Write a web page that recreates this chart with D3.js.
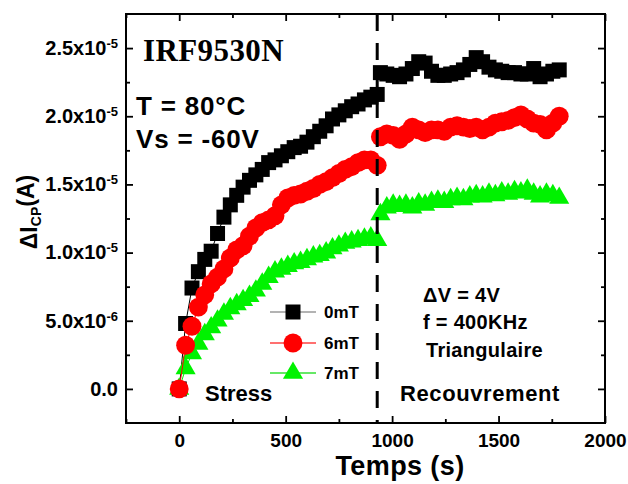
<!DOCTYPE html>
<html>
<head>
<meta charset="utf-8">
<script src="https://cdn.jsdelivr.net/npm/d3@7/dist/d3.min.js"></script>
<style>
  html, body { margin: 0; padding: 0; background: #fff; }
  svg { display: block; font-family: "Liberation Sans", Arial, sans-serif; }
</style>
</head>
<body>
<svg id="chart" width="628" height="484"></svg>
<script>
// Charge-pumping current shift ΔI_CP (in units of 1e-5 A) during stress and recovery
const stressTime = [0, 30, 60, 90, 120, 150, 180, 210, 240, 270, 300, 330, 360, 390, 420, 450,
  480, 510, 540, 570, 600, 630, 660, 690, 720, 750, 780, 810, 840, 870, 900, 930];
const recoveryTime = [945, 975, 1005, 1035, 1065, 1095, 1125, 1155, 1185, 1215, 1245, 1275, 1305,
  1335, 1365, 1395, 1425, 1455, 1485, 1515, 1545, 1575, 1605, 1635, 1665, 1695, 1725, 1755, 1785];

const stress0mT = [0.00, 0.48, 0.74, 0.86, 0.95, 1.01, 1.14, 1.26, 1.35, 1.42, 1.48, 1.53, 1.57,
  1.61, 1.66, 1.68, 1.71, 1.74, 1.77, 1.78, 1.81, 1.85, 1.89, 1.93, 1.98, 2.01, 2.04, 2.07, 2.09,
  2.12, 2.14, 2.16];
const recovery0mT = [2.32, 2.31, 2.30, 2.29, 2.31, 2.35, 2.40, 2.39, 2.33, 2.30, 2.30, 2.31, 2.32,
  2.34, 2.38, 2.43, 2.40, 2.36, 2.34, 2.33, 2.32, 2.32, 2.31, 2.31, 2.35, 2.29, 2.31, 2.33, 2.34];

const stress6mT = [0.00, 0.32, 0.46, 0.60, 0.69, 0.77, 0.82, 0.88, 0.96, 1.02, 1.05, 1.12, 1.18,
  1.22, 1.24, 1.27, 1.35, 1.40, 1.42, 1.43, 1.45, 1.47, 1.50, 1.52, 1.55, 1.58, 1.61, 1.63, 1.66,
  1.68, 1.68, 1.64];
const recovery6mT = [1.85, 1.87, 1.86, 1.83, 1.87, 1.92, 1.90, 1.88, 1.90, 1.90, 1.89, 1.92, 1.93,
  1.92, 1.91, 1.92, 1.90, 1.92, 1.95, 1.96, 1.97, 1.99, 2.01, 1.98, 1.95, 1.94, 1.90, 1.95, 2.00];

const stress7mT = [0.00, 0.15, 0.26, 0.33, 0.40, 0.45, 0.50, 0.55, 0.59, 0.62, 0.65, 0.68, 0.72,
  0.77, 0.82, 0.86, 0.88, 0.90, 0.92, 0.93, 0.95, 0.97, 0.98, 1.00, 1.03, 1.05, 1.07, 1.08, 1.09,
  1.10, 1.11, 1.09];
const recovery7mT = [1.28, 1.33, 1.35, 1.34, 1.35, 1.33, 1.36, 1.35, 1.37, 1.38, 1.37, 1.39, 1.40,
  1.39, 1.41, 1.42, 1.41, 1.43, 1.42, 1.44, 1.43, 1.45, 1.44, 1.46, 1.43, 1.41, 1.43, 1.42, 1.40];

const seriesNames = ["0mT", "6mT", "7mT"];
const phaseBoundary = 930;

const xTicks = [0, 500, 1000, 1500, 2000];
const xMinorTicks = [-250, 250, 750, 1250, 1750];
const yTicks = [0, 0.5, 1.0, 1.5, 2.0, 2.5];
const yMinorTicks = [0.25, 0.75, 1.25, 1.75, 2.25];
const yTickMantissa = ["0.0", "5.0x10", "1.0x10", "1.5x10", "2.0x10", "2.5x10"];
const yTickExponent = ["", "-6", "-5", "-5", "-5", "-5"];

const svg = d3.select("#chart");
const box = { left: 126, right: 605, top: 14, bottom: 423 };

const x = d3.scaleLinear().domain([-250, 2000]).range([box.left, box.right]);
const y = d3.scaleLinear().domain([-0.25, 2.75]).range([box.bottom, box.top]);

// series styling and draw order (squares, then triangles, circles on top)
const series = [
  { name: seriesNames[0], color: "#000000", line: "#9a9a9a", symbol: d3.symbolSquare, size: 225,
    stress: stress0mT, recovery: recovery0mT },
  { name: seriesNames[2], color: "#00f200", line: "#33e033", symbol: d3.symbolTriangle, size: 175,
    stress: stress7mT, recovery: recovery7mT },
  { name: seriesNames[1], color: "#ff0000", line: "#ff4040", symbol: d3.symbolCircle, size: 280,
    stress: stress6mT, recovery: recovery6mT }
];

const line = d3.line().x(d => x(d[0])).y(d => y(d[1]));
const plot = svg.append("g");

series.forEach(s => {
  const phases = [
    stressTime.map((t, i) => [t, s.stress[i]]),
    recoveryTime.map((t, i) => [t, s.recovery[i]])
  ];
  phases.forEach(pts => {
    plot.append("path").attr("d", line(pts)).attr("fill", "none")
      .attr("stroke", s.color).attr("stroke-width", 1);
    plot.selectAll(null).data(pts).enter().append("path")
      .attr("transform", d => `translate(${x(d[0])},${y(d[1])})`)
      .attr("d", d3.symbol().type(s.symbol).size(s.size))
      .attr("fill", s.color);
  });
});

// stress / recovery boundary
svg.append("line")
  .attr("x1", x(phaseBoundary)).attr("x2", x(phaseBoundary))
  .attr("y1", box.top).attr("y2", box.bottom)
  .attr("stroke", "#000").attr("stroke-width", 3)
  .attr("stroke-dasharray", "17,12");

// frame with inward ticks on all four sides
function styleAxis(g) {
  g.select(".domain").remove();
  g.selectAll(".tick line").attr("stroke", "#000").attr("stroke-width", 1.8);
}
svg.append("g").attr("transform", `translate(0,${box.bottom})`)
  .call(d3.axisBottom(x).tickValues(xTicks).tickSize(-7).tickPadding(11).tickFormat(d3.format("d")))
  .call(styleAxis)
  .call(g => g.selectAll("text").attr("font-size", 19).attr("font-weight", "bold").attr("fill", "#000"));
svg.append("g").attr("transform", `translate(0,${box.bottom})`)
  .call(d3.axisBottom(x).tickValues(xMinorTicks).tickSize(-4).tickFormat(""))
  .call(styleAxis);
svg.append("g").attr("transform", `translate(0,${box.top})`)
  .call(d3.axisTop(x).tickValues(xTicks).tickSize(-7).tickFormat(""))
  .call(styleAxis);
svg.append("g").attr("transform", `translate(0,${box.top})`)
  .call(d3.axisTop(x).tickValues(xMinorTicks).tickSize(-4).tickFormat(""))
  .call(styleAxis);

svg.append("g").attr("transform", `translate(${box.left},0)`)
  .call(d3.axisLeft(y).tickValues(yTicks).tickSize(-7).tickPadding(8).tickFormat(""))
  .call(styleAxis)
  .call(g => g.selectAll(".tick text").each(function (d, i) {
    const t = d3.select(this).attr("font-size", 20).attr("font-weight", "bold")
      .attr("fill", "#000").attr("dy", "0.32em");
    t.append("tspan").text(yTickMantissa[i]);
    if (yTickExponent[i]) {
      t.append("tspan").attr("font-size", 13).attr("dy", "-0.55em").text(yTickExponent[i]);
    }
  }));
svg.append("g").attr("transform", `translate(${box.left},0)`)
  .call(d3.axisLeft(y).tickValues(yMinorTicks).tickSize(-4).tickFormat(""))
  .call(styleAxis);
svg.append("g").attr("transform", `translate(${box.right},0)`)
  .call(d3.axisRight(y).tickValues(yTicks).tickSize(-7).tickFormat(""))
  .call(styleAxis);
svg.append("g").attr("transform", `translate(${box.right},0)`)
  .call(d3.axisRight(y).tickValues(yMinorTicks).tickSize(-4).tickFormat(""))
  .call(styleAxis);

svg.append("rect")
  .attr("x", box.left).attr("y", box.top)
  .attr("width", box.right - box.left).attr("height", box.bottom - box.top)
  .attr("fill", "none").attr("stroke", "#000").attr("stroke-width", 2);

// axis titles
svg.append("text").attr("x", 400).attr("y", 475).attr("text-anchor", "middle")
  .attr("font-size", 27).attr("font-weight", "bold").attr("letter-spacing", 0.4).text("Temps (s)");

const yTitle = svg.append("text")
  .attr("transform", "translate(37,212) rotate(-90)")
  .attr("text-anchor", "middle").attr("font-size", 23).attr("font-weight", "bold");
yTitle.append("tspan").text("ΔI");
yTitle.append("tspan").attr("font-size", 14).attr("dy", "0.3em").text("CP");
yTitle.append("tspan").attr("dy", "-0.3em").text("(A)");

// annotations
svg.append("text").attr("x", 143).attr("y", 61)
  .attr("font-family", "'Liberation Serif', 'Times New Roman', serif")
  .attr("font-size", 31).attr("font-weight", "bold").attr("letter-spacing", 0.4).text("IRF9530N");

const cond = [["T = 80°C", 115], ["Vs = -60V", 148]];
cond.forEach(c => svg.append("text").attr("x", 136).attr("y", c[1])
  .attr("font-size", 26).attr("font-weight", "bold").attr("letter-spacing", 0.8).text(c[0]));

const params = [["ΔV = 4V", 423, 302], ["f = 400KHz", 423, 329], ["Triangulaire", 426, 357]];
params.forEach(p => svg.append("text").attr("x", p[1]).attr("y", p[2])
  .attr("font-size", 20).attr("font-weight", "bold").attr("letter-spacing", 0.3).text(p[0]));

svg.append("text").attr("x", 205).attr("y", 401)
  .attr("font-size", 22).attr("font-weight", "bold").text("Stress");
svg.append("text").attr("x", 400).attr("y", 401)
  .attr("font-size", 22).attr("font-weight", "bold").attr("letter-spacing", 0.6).text("Recouvrement");

// legend
const legendRows = [
  { s: series[0], y: 312 },
  { s: series[2], y: 343 },
  { s: series[1], y: 373 }
];
legendRows.forEach(r => {
  const g = svg.append("g");
  g.append("line").attr("x1", 270).attr("x2", 316).attr("y1", r.y).attr("y2", r.y)
    .attr("stroke", r.s.line).attr("stroke-width", 1.5);
  g.append("path").attr("transform", `translate(293,${r.y})`)
    .attr("d", d3.symbol().type(r.s.symbol).size(r.s.size)).attr("fill", r.s.color);
  g.append("text").attr("x", 324).attr("y", r.y + 6)
    .attr("font-size", 17).attr("font-weight", "bold").text(r.s.name);
});
</script>
</body>
</html>
